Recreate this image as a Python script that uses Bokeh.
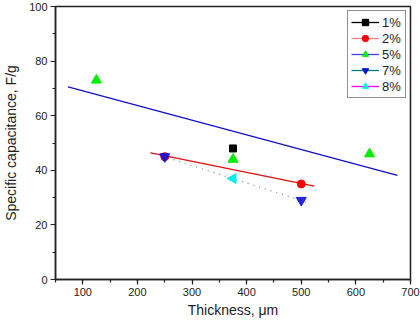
from bokeh.plotting import figure
from bokeh.models import Range1d, Legend, LegendItem, SingleIntervalTicker
from bokeh.embed import file_html
from bokeh.resources import INLINE

# data points
x_1 = [375]
y_1 = [48]
x_2 = [250, 500]
y_2 = [45, 35]
x_5 = [125, 375, 625]
y_5 = [73, 44, 46]
x_7 = [250, 500]
y_7 = [45, 29]
x_8 = [375]
y_8 = [37]

# fitted lines (endpoints)
fit5_x = [73, 676]
fit5_y = [70.6, 38.1]
fit2_x = [224, 524]
fit2_y = [46.4, 34.2]
fit7_x = [224, 515]
fit7_y = [46.6, 28.0]

labels = ["1%", "2%", "5%", "7%", "8%"]

FONT = "Liberation Sans"

p = figure(width=420, height=322, output_backend="svg", toolbar_location=None,
           x_range=Range1d(50, 700), y_range=Range1d(0, 100),
           min_border_left=47, min_border_right=10, min_border_top=6, min_border_bottom=43)
p.grid.visible = False
p.background_fill_color = "white"
p.border_fill_color = "white"
p.outline_line_color = "#222222"
p.outline_line_width = 1.5

for ax in (p.xaxis[0], p.yaxis[0]):
    ax.axis_line_color = "#222222"
    ax.axis_line_width = 1.5
    ax.major_tick_line_color = "#222222"
    ax.minor_tick_line_color = "#222222"
    ax.major_tick_line_width = 1.2
    ax.minor_tick_line_width = 1.2
    ax.major_tick_out = 5
    ax.major_tick_in = 0
    ax.minor_tick_out = 3
    ax.minor_tick_in = 0
    ax.major_label_text_font = FONT
    ax.major_label_text_font_size = "11px"
    ax.major_label_text_color = "#222222"
    ax.axis_label_text_font = FONT
    ax.axis_label_text_font_size = "14px"
    ax.axis_label_text_font_style = "normal"
    ax.axis_label_text_color = "#222222"

p.xaxis[0].ticker = SingleIntervalTicker(interval=100, num_minor_ticks=2)
p.yaxis[0].ticker = SingleIntervalTicker(interval=20, num_minor_ticks=2)
p.xaxis.axis_label = "Thickness, \u03bcm"
p.yaxis.axis_label = "Specific capacitance, F/g"
p.xaxis.axis_label_standoff = 3
p.yaxis.axis_label_standoff = 7
p.xaxis.major_label_standoff = 3
p.yaxis.major_label_standoff = 3

# fit lines
p.line(fit5_x, fit5_y, line_color="#1010C8", line_width=1.3)
p.line(fit2_x, fit2_y, line_color="#E01010", line_width=1.3)
p.line(fit7_x, fit7_y, line_color="#5A9A9A", line_width=1.2, line_dash="1 5")

# points
p.scatter(x_1, y_1, marker="square", size=7, color="black")
p.scatter(x_2, y_2, marker="circle", size=8, color="#FF0000")
p.scatter(x_5, y_5, marker="triangle", size=10, color="#00EE00")
p.scatter(x_7, y_7, marker="inverted_triangle", size=10, color="#1010E0", alpha=0.9)
p.scatter(x_8, y_8, marker="triangle", angle=1.5708, size=10, color="#00F0F0")

# legend renderers (placed outside the visible range)
leg_specs = [
    ("black", "black", "square", 7, 0.0),
    ("#FF8080", "#FF0000", "circle", 9, 0.0),
    ("#4040FF", "#00EE00", "triangle", 10, 0.0),
    ("#008080", "#1010E0", "inverted_triangle", 10, 0.0),
    ("#FF00FF", "#00F0F0", "triangle", 10, 1.5708),
]
items = []
for lab, (lc, mc, mk, sz, ang) in zip(labels, leg_specs):
    r1 = p.line([-1000, -999], [-1000, -1000], line_color=lc, line_width=1.3)
    r2 = p.scatter([-1000], [-1000], marker=mk, size=sz, color=mc, angle=ang)
    items.append(LegendItem(label=lab, renderers=[r1, r2]))

legend = Legend(items=items, location="top_right")
legend.border_line_color = "#222222"
legend.border_line_width = 1
legend.label_text_font = FONT
legend.label_text_font_size = "13px"
legend.label_text_color = "#222222"
legend.glyph_width = 28
legend.glyph_height = 16
legend.label_standoff = 3
legend.spacing = 0
legend.padding = 3
legend.margin = 4
legend.label_height = 16
p.add_layout(legend, "center")

open("out.html", "w").write(file_html(p, INLINE))
